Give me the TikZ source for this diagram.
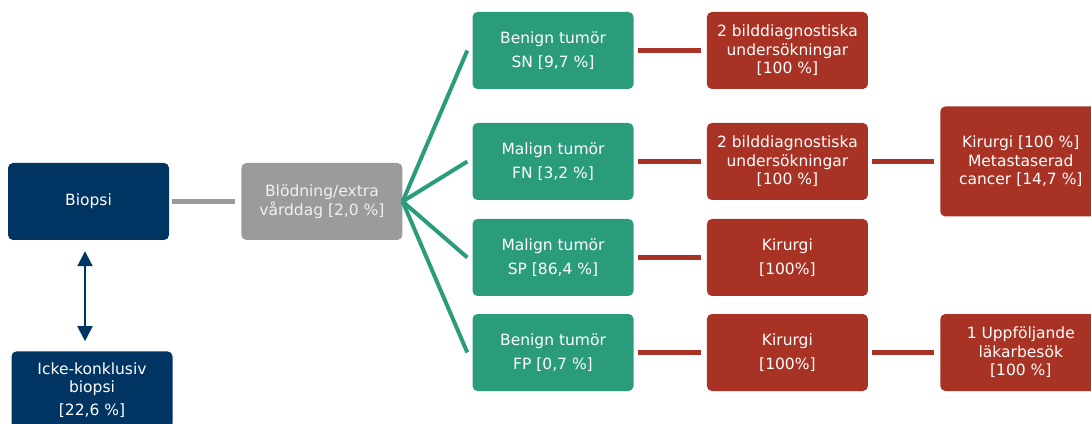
\documentclass[tikz,border=0pt]{standalone}
\usepackage{fontspec}
\setmainfont{DejaVu Sans}
\usetikzlibrary{positioning,arrows.meta}
\definecolor{biopsiblue}{HTML}{003462}
\definecolor{bleedgrey}{HTML}{9B9B9B}
\definecolor{tumorgreen}{HTML}{2A9C7C}
\definecolor{costred}{HTML}{A83224}

\begin{document}
\begin{tikzpicture}[x=1pt,y=1pt,
    box/.style={rounded corners=5pt, minimum width=161pt, minimum height=77pt,
      inner sep=0pt, align=center, text=white,
      font=\fontsize{15.5}{18.5}\selectfont},
    loose/.style={font=\fontsize{15.5}{24.5}\selectfont},
    bluebox/.style={box, fill=biopsiblue},
    greybox/.style={box, fill=bleedgrey, text=white!94!black,
      font=\fontsize{15.5}{19.5}\selectfont},
    greenbox/.style={box, loose, fill=tumorgreen},
    redbox/.style={box, fill=costred},
    greyline/.style={draw=bleedgrey, line width=5pt, shorten <=3pt, shorten >=6pt},
    greenline/.style={draw=tumorgreen, line width=4pt},
    redline/.style={draw=costred, line width=5pt, shorten <=4pt, shorten >=6pt},
    arrowline/.style={draw=biopsiblue, line width=2pt,
      {Triangle[width=15pt,length=15pt]}-{Triangle[width=15pt,length=15pt]}}]
  \useasboundingbox (0,0) rectangle (1091,423);

  \node[bluebox] (biopsi) at (88.5,221.5) {Biopsi};
  \node[bluebox, below=111pt of biopsi, xshift=3.5pt] (icke)
       {Icke-konklusiv\\biopsi\\[4.5pt][22,6 \%]};
  \node[greybox, right=72pt of biopsi] (bleed) {Blödning/extra\\vårddag [2,0 \%]};

  % tumor outcomes
  \node[greenbox] (sn) at (553,372.5) {Benign tumör\\SN [9,7 \%]};
  \node[greenbox] (fn) at (553,261.5) {Malign tumör\\FN [3,2 \%]};
  \node[greenbox] (sp) at (553,165.5) {Malign tumör\\SP [86,4 \%]};
  \node[greenbox] (fp) at (553,70.5) {Benign tumör\\FP [0,7 \%]};

  \node[redbox, right=73pt of sn] (snimg) {2 bilddiagnostiska\\undersökningar\\{}[100 \%]};
  \node[redbox, right=73pt of fn] (fnimg) {2 bilddiagnostiska\\undersökningar\\{}[100 \%]};
  \node[redbox, loose, right=73pt of sp] (spsurg) {Kirurgi\\{}[100\%]};
  \node[redbox, loose, right=73pt of fp] (fpsurg) {Kirurgi\\{}[100\%]};

  \node[redbox, minimum height=110pt, right=72pt of fnimg] (fnsurg)
       {Kirurgi [100 \%]\\Metastaserad\\cancer [14,7 \%]};
  \node[redbox, right=72pt of fpsurg] (fpvisit) {1 Uppföljande\\läkarbesök\\{}[100 \%]};

  \draw[greyline] (biopsi.east) -- (bleed.west);
  \draw[arrowline] ([xshift=-3.5pt,yshift=-11pt]biopsi.south)
                -- ([xshift=-7pt,yshift=10pt]icke.north);
  \foreach \t in {sn,fn,sp,fp}
    \draw[greenline] (bleed.east) -- ([xshift=-5pt]\t.west);
  \draw[redline] (sn.east) -- (snimg.west);
  \draw[redline] (fn.east) -- (fnimg.west);
  \draw[redline] (sp.east) -- (spsurg.west);
  \draw[redline] (fp.east) -- (fpsurg.west);
  \draw[redline] (fnimg.east) -- (fnsurg.west);
  \draw[redline] (fpsurg.east) -- (fpvisit.west);
\end{tikzpicture}
\end{document}
